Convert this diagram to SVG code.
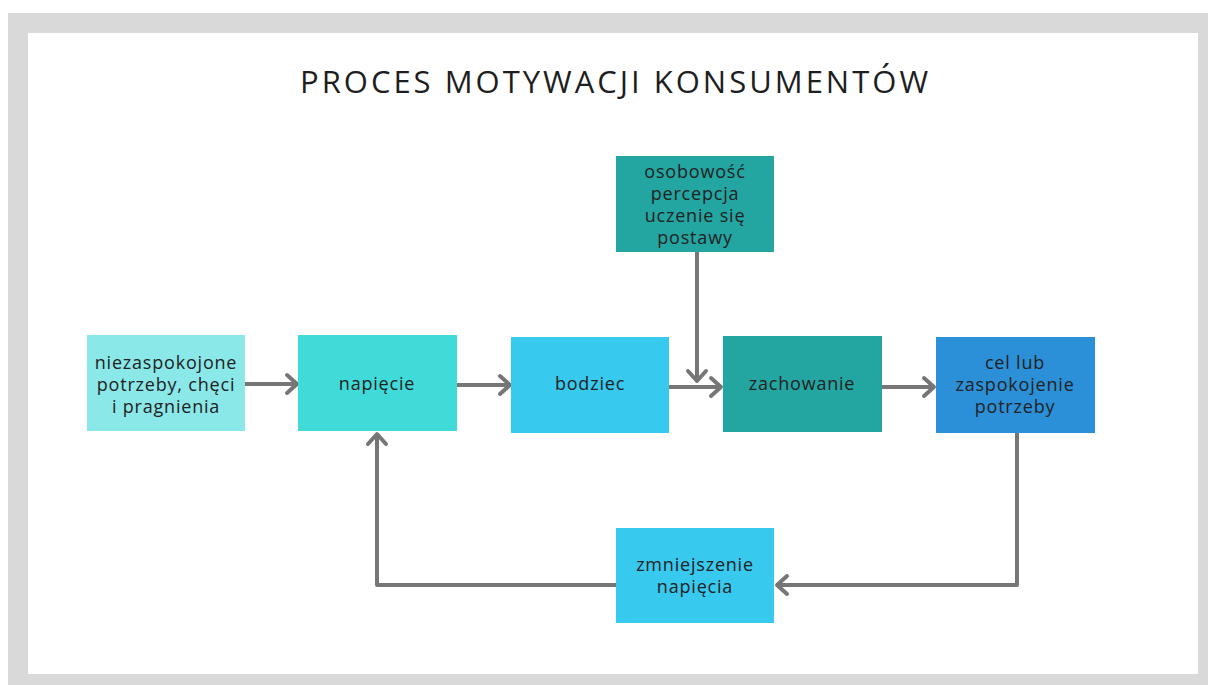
<svg xmlns="http://www.w3.org/2000/svg" width="1208" height="685" viewBox="0 0 1208 685">
  <style>
    .lbl { font-family: "Open Sans", "DejaVu Sans", sans-serif; font-size: 18px; fill: #222; text-anchor: middle; letter-spacing: 0.8px; }
    .title { font-family: "Open Sans", "DejaVu Sans", sans-serif; font-size: 31px; fill: #1e1e1e; text-anchor: middle; }
    .wire { fill: none; stroke: #767676; stroke-width: 4; stroke-linejoin: round; }
  </style>
  <defs>
    <marker id="chev" markerUnits="userSpaceOnUse" viewBox="0 0 16 24" refX="13" refY="12" markerWidth="16" markerHeight="24" orient="auto">
      <path d="M3,3 L13,12 L3,21" fill="none" stroke="#767676" stroke-width="4" stroke-linecap="round" stroke-linejoin="round"/>
    </marker>
  </defs>

  <!-- frame and page -->
  <rect x="0" y="0" width="1208" height="685" fill="#ffffff"/>
  <rect x="8" y="13" width="1200" height="672" fill="#d9d9d9"/>
  <rect x="28" y="33" width="1170" height="641" fill="#ffffff"/>

  <text class="title" x="614" y="93" textLength="628" lengthAdjust="spacing">PROCES MOTYWACJI KONSUMENTÓW</text>

  <!-- connectors -->
  <g id="connectors">
    <line class="wire" x1="245" y1="384" x2="297" y2="384" marker-end="url(#chev)"/>
    <line class="wire" x1="457" y1="385" x2="510" y2="385" marker-end="url(#chev)"/>
    <line class="wire" x1="669" y1="387" x2="721" y2="387" marker-end="url(#chev)"/>
    <line class="wire" x1="697" y1="252" x2="697" y2="381" marker-end="url(#chev)"/>
    <line class="wire" x1="882" y1="387" x2="934" y2="387" marker-end="url(#chev)"/>
    <polyline class="wire" points="1017,433 1017,585 777,585" marker-end="url(#chev)"/>
    <polyline class="wire" points="616,585 377,585 377,434" marker-end="url(#chev)"/>
  </g>

  <!-- nodes -->
  <g id="node-niezaspokojone">
    <rect x="87" y="335" width="158" height="96" fill="#8ae8e8"/>
    <text class="lbl" x="166" y="369">niezaspokojone</text>
    <text class="lbl" x="166" y="391">potrzeby, chęci</text>
    <text class="lbl" x="166" y="413">i pragnienia</text>
  </g>
  <g id="node-napiecie">
    <rect x="298" y="335" width="159" height="96" fill="#40dbd8"/>
    <text class="lbl" x="377" y="390">napięcie</text>
  </g>
  <g id="node-bodziec">
    <rect x="511" y="337" width="158" height="96" fill="#38c9ef"/>
    <text class="lbl" x="590" y="390">bodziec</text>
  </g>
  <g id="node-osobowosc">
    <rect x="616" y="156" width="158" height="96" fill="#23a5a1"/>
    <text class="lbl" x="695" y="178">osobowość</text>
    <text class="lbl" x="695" y="200">percepcja</text>
    <text class="lbl" x="695" y="222">uczenie się</text>
    <text class="lbl" x="695" y="244">postawy</text>
  </g>
  <g id="node-zachowanie">
    <rect x="723" y="336" width="159" height="96" fill="#23a5a1"/>
    <text class="lbl" x="802" y="390">zachowanie</text>
  </g>
  <g id="node-cel">
    <rect x="936" y="337" width="159" height="96" fill="#2b90d7"/>
    <text class="lbl" x="1015" y="369">cel lub</text>
    <text class="lbl" x="1015" y="391">zaspokojenie</text>
    <text class="lbl" x="1015" y="413">potrzeby</text>
  </g>
  <g id="node-zmniejszenie">
    <rect x="616" y="528" width="158" height="95" fill="#38c9ef"/>
    <text class="lbl" x="695" y="571">zmniejszenie</text>
    <text class="lbl" x="695" y="593">napięcia</text>
  </g>
</svg>
